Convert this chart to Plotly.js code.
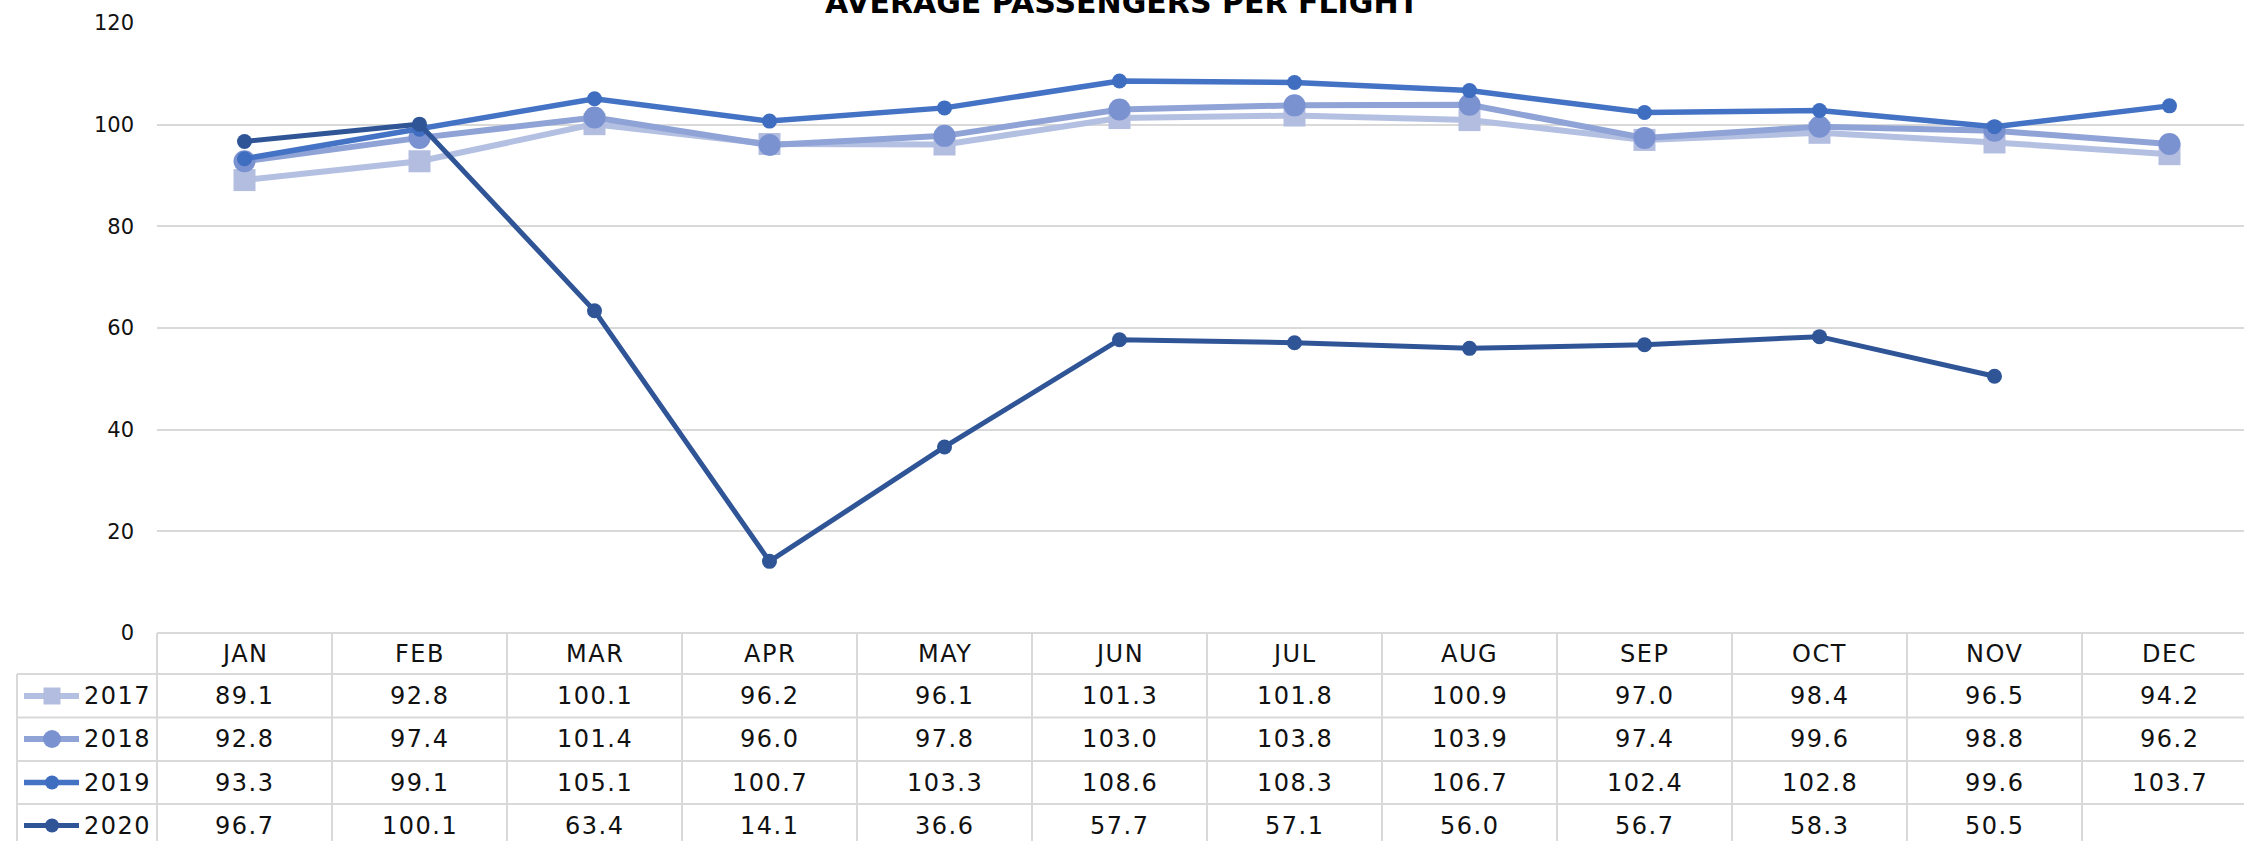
<!DOCTYPE html>
<html><head><meta charset="utf-8">
<script src="https://cdn.plot.ly/plotly-3.0.1.min.js"></script>
<style>html,body{margin:0;padding:0;background:#fff;overflow:hidden}
.annotation-text{letter-spacing:1.5px}</style>
</head><body><div id="chart" style="width:2244px;height:841px"></div>
<script>
// ---- data ----
const months = ['JAN','FEB','MAR','APR','MAY','JUN','JUL','AUG','SEP','OCT','NOV','DEC'];
const years = ['2017','2018','2019','2020'];
const v2017 = [89.1, 92.8, 100.1, 96.2, 96.1, 101.3, 101.8, 100.9, 97.0, 98.4, 96.5, 94.2];
const v2018 = [92.8, 97.4, 101.4, 96.0, 97.8, 103.0, 103.8, 103.9, 97.4, 99.6, 98.8, 96.2];
const v2019 = [93.3, 99.1, 105.1, 100.7, 103.3, 108.6, 108.3, 106.7, 102.4, 102.8, 99.6, 103.7];
const v2020 = [96.7, 100.1, 63.4, 14.1, 36.6, 57.7, 57.1, 56.0, 56.7, 58.3, 50.5, null];
const yTicks = [0, 20, 40, 60, 80, 100, 120];
const seriesValues = [v2017, v2018, v2019, v2020];

// ---- styles ----
const styles = [
  {line:'#B4C0E2', marker:'#B2BDE0', symbol:'square', size:22, width:6,   legSize:17, legShape:'rect'},
  {line:'#8FA3D6', marker:'#7A92CF', symbol:'circle', size:22, width:6,   legSize:18, legShape:'circle'},
  {line:'#4472C4', marker:'#3F6DC0', symbol:'circle', size:15, width:5.5, legSize:14, legShape:'circle'},
  {line:'#2F5597', marker:'#2F5597', symbol:'circle', size:15, width:5,   legSize:14, legShape:'circle'}
];
const FONT = 'DejaVu Sans';
const TXT = '#111111';
const GRID = '#d9d9d9';

// ---- geometry ----
const W = 2244, H = 841, L = 157, T = 23, B0 = 633, COLW = 175;
const X0 = -0.5, X1 = -0.5 + (W - L) / COLW;
const plotH = B0 - T;
const py = Y => (B0 - Y) / plotH;
const pxp = X => (X - L) / (W - L);
const xp = v => (v - X0) / (X1 - X0);
const rowLines = [674, 717.5, 761, 804];
const rowCenters = [696, 739, 782.5, 825.5];
const headerCenter = 653.5;
const legLeft = 17;

const traces = seriesValues.map((vals, s) => ({
  type: 'scatter', mode: 'lines+markers', name: years[s],
  x: months, y: vals, connectgaps: false,
  line: {color: styles[s].line, width: styles[s].width},
  marker: {color: styles[s].marker, symbol: styles[s].symbol, size: styles[s].size, line: {width: 0}},
  cliponaxis: false, hoverinfo: 'skip'
}));

const shapes = [];
const annotations = [];
// vertical column lines
for (let k = 0; k <= months.length; k++) {
  shapes.push({type:'line', xref:'paper', yref:'paper', x0: xp(k - 0.5), x1: xp(k - 0.5),
    y0: py(B0), y1: py(H + 20), line:{color: GRID, width: 2}});
}
// legend column left border
shapes.push({type:'line', xref:'paper', yref:'paper', x0: pxp(legLeft), x1: pxp(legLeft),
  y0: py(rowLines[0]), y1: py(H + 20), line:{color: GRID, width: 2}});
// horizontal row lines
rowLines.forEach(Y => shapes.push({type:'line', xref:'paper', yref:'paper',
  x0: pxp(legLeft), x1: 1.0, y0: py(Y), y1: py(Y), line:{color: GRID, width: 2}}));

// header
months.forEach((m, i) => annotations.push({xref:'x', yref:'paper', x: i, y: py(headerCenter),
  text: m, showarrow:false, xanchor:'center', yanchor:'middle', font:{family: FONT, size: 24, color: TXT}}));

// rows
seriesValues.forEach((vals, s) => {
  const yc = py(rowCenters[s]);
  vals.forEach((v, i) => {
    if (v === null) return;
    annotations.push({xref:'x', yref:'paper', x: i, y: yc, text: v.toFixed(1), showarrow:false,
      xanchor:'center', yanchor:'middle', font:{family: FONT, size: 24, color: TXT}});
  });
  annotations.push({xref:'paper', yref:'paper', x: pxp(82), y: yc, text: years[s], showarrow:false,
    xanchor:'left', yanchor:'middle', font:{family: FONT, size: 24, color: TXT}});
  // legend key
  const st = styles[s];
  shapes.push({type:'line', xref:'paper', yref:'paper', xsizemode:'pixel', ysizemode:'pixel',
    xanchor: pxp(52), yanchor: yc, x0: -28, x1: 27, y0: 0, y1: 0,
    line:{color: st.line, width: st.width}});
  const h = st.legSize / 2;
  shapes.push({type: st.legShape, xref:'paper', yref:'paper', xsizemode:'pixel', ysizemode:'pixel',
    xanchor: pxp(52), yanchor: yc, x0: -h, x1: h, y0: -h, y1: h,
    fillcolor: st.marker, line:{width: 0}});
});

const layout = {
  width: W, height: H,
  margin: {l: L, r: 0, t: T, b: H - B0, pad: 0},
  paper_bgcolor: '#ffffff', plot_bgcolor: '#ffffff',
  showlegend: false,
  title: {text: '<b>AVERAGE PASSENGERS PER FLIGHT</b>', xref:'container', x: 0.5, xanchor:'center',
    yref:'container', y: 1 - 13 / H, yanchor:'bottom', font:{family: FONT, size: 30, color: '#000'}},
  xaxis: {type:'category', range: [X0, X1], showgrid:false, zeroline:false, showline:false,
    showticklabels:false, ticks:'', fixedrange:true},
  yaxis: {range: [0, 120], tickvals: yTicks, ticktext: yTicks.map(String), showgrid:true, gridcolor: GRID, gridwidth: 2,
    zeroline:true, zerolinecolor: GRID, zerolinewidth: 2, showline:false, ticks:'',
    ticklabelstandoff: 22, tickfont:{family: FONT, size: 21, color: TXT}, fixedrange:true},
  shapes: shapes,
  annotations: annotations
};

Plotly.newPlot('chart', traces, layout, {displayModeBar:false, staticPlot:true});
</script>
</body></html>
